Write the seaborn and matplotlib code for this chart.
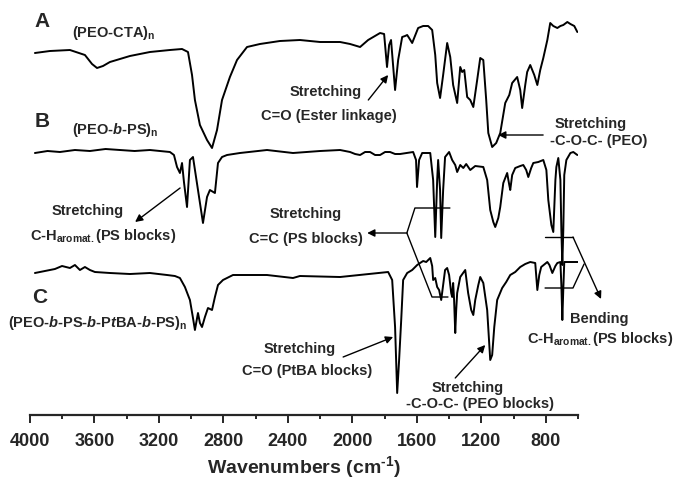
"""
FTIR spectra of (PEO-CTA)n, (PEO-b-PS)n and (PEO-b-PS-b-PtBA-b-PS)n
"""

import matplotlib
matplotlib.use("Agg")
import matplotlib.pyplot as plt
import seaborn as sns
import pandas as pd

# ---- data (transmittance in arbitrary units) ----
wn_a = [3968, 3875, 3751, 3658, 3614, 3583, 3546, 3503, 3379, 3255, 3131, 3056, 3019,
        2994, 2976, 2945, 2901, 2870, 2839, 2808, 2759, 2715, 2653, 2573, 2449, 2325,
        2200, 2076, 2014, 1952, 1902, 1828, 1803, 1785, 1772, 1760, 1735, 1716, 1691,
        1673, 1660, 1648, 1629, 1592, 1561, 1530, 1505, 1486, 1474, 1456, 1437, 1412,
        1393, 1375, 1350, 1331, 1319, 1306, 1288, 1269, 1250, 1226, 1207, 1188, 1170,
        1157, 1133, 1108, 1083, 1052, 1027, 1009, 978, 959, 947, 928, 916, 897, 872,
        853, 835, 816, 791, 773, 754, 729, 710, 692, 667, 648, 624, 605]
t_a = [36.2, 36.4, 36.5, 36.0, 35.1, 34.7, 34.9, 35.3, 35.9, 36.3, 36.5, 36.6, 36.3,
       34.0, 31.5, 29.0, 27.5, 26.7, 28.5, 31.5, 33.8, 35.5, 36.8, 37.1, 37.4, 37.5,
       37.3, 37.3, 37.1, 36.8, 37.5, 38.2, 38.1, 34.8, 37.0, 37.5, 32.5, 35.5, 37.8,
       37.9, 38.0, 37.7, 37.2, 38.7, 38.9, 38.9, 38.5, 36.0, 33.2, 31.7, 34.0, 37.2,
       35.8, 33.0, 31.2, 34.8, 34.3, 34.5, 31.8, 31.5, 30.8, 33.5, 35.7, 35.5, 31.5,
       28.2, 26.8, 27.2, 28.2, 31.2, 32.0, 33.2, 33.8, 32.5, 30.7, 33.0, 34.3, 35.0, 34.0,
       33.0, 34.5, 35.7, 37.5, 39.2, 38.9, 38.7, 38.9, 39.0, 39.3, 39.1, 38.9, 38.3]

wn_b = [3968, 3890, 3813, 3720, 3627, 3530, 3441, 3350, 3255, 3131, 3106, 3087, 3069,
        3056, 3044, 3025, 3007, 2988, 2957, 2926, 2901, 2883, 2852, 2833, 2808, 2777,
        2697, 2529, 2368, 2200, 2076, 2014, 1983, 1952, 1921, 1890, 1859, 1828, 1797,
        1766, 1735, 1704, 1623, 1605, 1599, 1586, 1567, 1517, 1499, 1486, 1474, 1468,
        1456, 1449, 1437, 1425, 1400, 1381, 1362, 1350, 1331, 1312, 1294, 1269, 1238,
        1188, 1164, 1145, 1126, 1114, 1095, 1083, 1064, 1040, 1027, 1021, 1009, 990, 959,
        940, 922, 909, 891, 878, 847, 816, 797, 785, 766, 754, 741, 735, 723, 710, 704,
        698, 692, 686, 673, 648, 630, 605]
t_b = [26.2, 26.4, 26.3, 26.5, 26.4, 26.6, 26.5, 26.4, 26.5, 26.3, 26.0, 24.8, 24.2,
       25.2, 23.3, 20.8, 25.5, 25.8, 22.5, 19.2, 21.8, 22.5, 22.2, 25.2, 25.8, 26.0,
       26.2, 26.5, 26.2, 26.4, 26.5, 26.3, 26.1, 26.0, 26.3, 26.3, 26.0, 26.0, 26.3,
       26.3, 26.1, 26.1, 26.3, 25.5, 22.8, 25.5, 26.2, 26.2, 23.5, 17.8, 23.5, 25.5,
       22.5, 17.7, 22.5, 25.8, 26.3, 25.5, 25.0, 24.3, 25.0, 24.7, 25.1, 24.5, 24.9,
       24.8, 23.5, 20.5, 19.3, 18.8, 19.7, 20.8, 23.2, 24.2, 23.0, 22.5, 24.0, 24.7, 24.9,
       25.0, 24.5, 23.8, 24.7, 25.2, 25.3, 25.5, 24.5, 21.5, 19.0, 18.3, 23.5, 24.8,
       25.7, 23.5, 18.5, 15.0, 18.5, 24.0, 25.5, 26.2, 26.3, 26.0]

wn_c = [3968, 3906, 3844, 3800, 3751, 3720, 3689, 3658, 3627, 3596, 3503, 3379, 3255,
        3149, 3100, 3069, 3038, 3019, 3007, 2988, 2976, 2957, 2945, 2932, 2914, 2895,
        2870, 2852, 2833, 2802, 2740, 2529, 2368, 2325, 2076, 1778, 1753, 1735, 1722,
        1710, 1697, 1685, 1660, 1629, 1598, 1580, 1561, 1542, 1517, 1505, 1499, 1486,
        1474, 1462, 1449, 1437, 1425, 1412, 1400, 1387, 1381, 1375, 1369, 1362, 1356,
        1350, 1331, 1300, 1282, 1263, 1250, 1238, 1219, 1207, 1188, 1164, 1145, 1133,
        1120, 1102, 1071, 1046, 1021, 990, 959, 928, 897, 866, 853, 841, 829, 791, 778,
        760, 741, 729, 710, 704, 698, 692, 686, 648, 617, 599]
t_c = [14.2, 14.4, 14.6, 14.9, 14.7, 15.0, 14.5, 14.8, 14.5, 14.3, 14.2, 14.1, 14.2,
       14.0, 13.9, 13.7, 12.8, 12.0, 11.5, 9.7, 8.5, 10.2, 9.2, 8.8, 9.8, 10.7,
       10.5, 11.8, 13.0, 13.5, 14.0, 14.0, 13.7, 13.9, 13.8, 14.3, 13.5, 8.8, 2.2,
       5.5, 9.5, 13.5, 14.2, 14.5, 15.0, 15.2, 15.4, 15.3, 15.7, 14.9, 13.5, 13.7,
       12.8, 12.5, 11.5, 13.0, 14.5, 14.7, 14.0, 12.2, 11.8, 13.2, 11.5, 8.2, 10.5,
       12.2, 13.8, 14.5, 12.2, 10.5, 10.0, 11.5, 13.0, 13.8, 13.2, 10.5, 5.5, 6.0,
       8.8, 11.5, 12.7, 13.3, 14.0, 14.3, 14.8, 15.1, 15.3, 15.2, 12.5, 14.0, 14.8, 15.3,
       15.0, 14.2, 14.9, 15.2, 15.3, 13.0, 9.5, 12.6, 15.3, 15.3, 15.3, 15.3]

spectra = {"A": (wn_a, t_a), "B": (wn_b, t_b), "C": (wn_c, t_c)}

major_ticks = [4000, 3600, 3200, 2800, 2400, 2000, 1600, 1200, 800]
minor_ticks = [3800, 3400, 3000, 2600, 2200, 1800, 1400, 1000, 600]

# ---- style ----
sns.set_style("ticks")
plt.rcParams["font.family"] = ["Liberation Sans", "DejaVu Sans"]
plt.rcParams["font.weight"] = "bold"
plt.rcParams["mathtext.fontset"] = "custom"
plt.rcParams["mathtext.rm"] = "Liberation Sans:bold"
plt.rcParams["mathtext.bf"] = "Liberation Sans:bold"
plt.rcParams["mathtext.it"] = "Liberation Sans:italic:bold"

fig = plt.figure(figsize=(6.75, 4.79), dpi=100)
ax = fig.add_axes([0.0441, 0.1336, 0.8124, 0.8664])

for name, (wn, t) in spectra.items():
    df = pd.DataFrame({"wavenumber": wn, "T": t})
    sns.lineplot(data=df, x="wavenumber", y="T", ax=ax, color="black",
                 linewidth=1.4, estimator=None, sort=False)

ax.set_xlim(4000, 600)
ax.set_ylim(0, 41.5)
ax.set_xticks(major_ticks)
ax.set_xticks(minor_ticks, minor=True)
ax.set_yticks([])
ax.set_ylabel("")
ax.tick_params(axis="x", which="major", length=6, width=1.4, labelsize=13, pad=7)
ax.tick_params(axis="x", which="minor", length=3, width=1.4)
for s in ["left", "top", "right"]:
    ax.spines[s].set_visible(False)
ax.spines["bottom"].set_linewidth(1.6)
ax.patch.set_alpha(0)
ax.set_xlabel("Wavenumbers (cm$^{\\text{-1}}$)", fontsize=14, fontweight="bold",
              labelpad=3)

fs = 10.5
kw = dict(fontsize=fs, fontweight="bold", clip_on=False)

# panel letters and sample names
ax.text(3924, 38.8, "A", fontsize=15, ha="center", va="baseline", fontweight="bold")
ax.text(3924, 28.8, "B", fontsize=15, ha="center", va="baseline", fontweight="bold")
ax.text(3936, 11.2, "C", fontsize=15, ha="center", va="baseline", fontweight="bold")
ax.text(3738, 37.8, "(PEO-CTA)$_\\mathrm{n}$", ha="left", va="baseline", **kw)
ax.text(3738, 28.1, "(PEO-$\\mathit{b}$-PS)$_\\mathrm{n}$", ha="left", va="baseline", **kw)
ax.text(4135, 8.8, "(PEO-$\\mathit{b}$-PS-$\\mathit{b}$-P$\\mathit{t}$BA-$\\mathit{b}$-PS)$_\\mathrm{n}$",
        ha="left", va="baseline", **kw)

# annotations
ax.text(2168, 31.9, "Stretching", ha="center", va="baseline", **kw)
ax.text(2145, 29.5, "C=O (Ester linkage)", ha="center", va="baseline", **kw)
ax.text(520, 28.7, "Stretching", ha="center", va="baseline", **kw)
ax.text(471, 27.0, "-C-O-C- (PEO)", ha="center", va="baseline", **kw)
ax.text(3639, 20.0, "Stretching", ha="center", va="baseline", **kw)
ax.text(3999, 17.5, "C-H$_\\mathrm{aromat.}$(PS blocks)", ha="left", va="baseline", **kw)
ax.text(2288, 19.7, "Stretching", ha="center", va="baseline", **kw)
ax.text(2288, 17.2, "C=C (PS blocks)", ha="center", va="baseline", **kw)
ax.text(471, 9.2, "Bending", ha="center", va="baseline", **kw)
ax.text(916, 7.2, "C-H$_\\mathrm{aromat.}$(PS blocks)", ha="left", va="baseline", **kw)
ax.text(2325, 6.2, "Stretching", ha="center", va="baseline", **kw)
ax.text(2281, 4.0, "C=O (PtBA blocks)", ha="center", va="baseline", **kw)
ax.text(1288, 2.3, "Stretching", ha="center", va="baseline", **kw)
ax.text(1208, 0.7, "-C-O-C- (PEO blocks)", ha="center", va="baseline", **kw)

arrow = dict(arrowstyle="-|>", color="black", lw=1.0, mutation_scale=11,
             shrinkA=0, shrinkB=0)
arrows = [((1901, 31.5), (1778, 34.0)),
          ((817, 28.0), (1096, 28.0)),
          ((3068, 22.7), (3347, 19.3)),
          ((1660, 18.2), (1908, 18.2)),
          ((632, 17.8), (458, 11.6)),
          ((2057, 5.8), (1747, 7.8)),
          ((1362, 3.7), (1176, 7.0))]
for tail, head in arrows:
    ax.annotate("", xy=head, xytext=tail, arrowprops=arrow, annotation_clip=False)

# brackets
ax.plot([1395, 1612, 1662, 1506, 1407], [20.7, 20.7, 18.2, 11.8, 11.8],
        color="black", lw=1.0, clip_on=False)
ax.plot([805, 632], [17.8, 17.8], color="black", lw=1.0, clip_on=False)
ax.plot([805, 632, 563], [12.7, 12.7, 15.1], color="black", lw=1.0, clip_on=False)

fig.savefig("out.png", dpi=100)
